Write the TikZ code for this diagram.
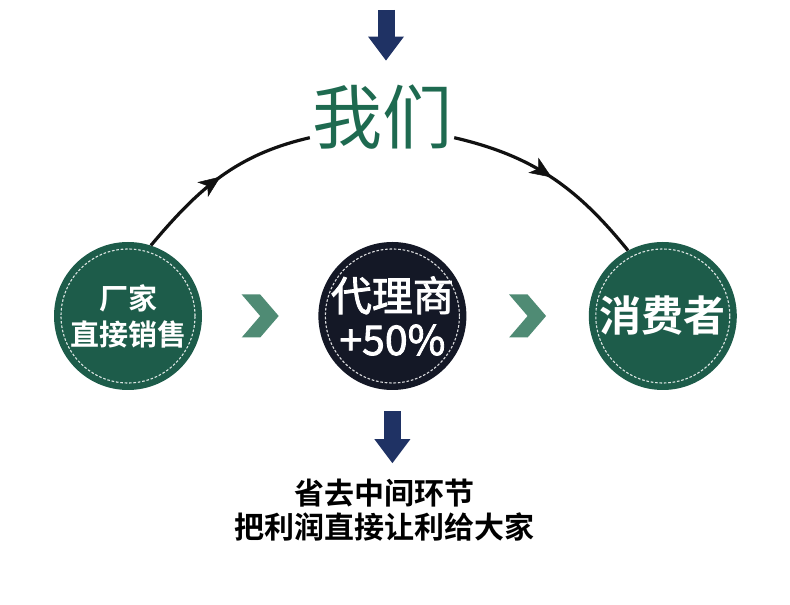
\documentclass[tikz,border=0pt]{standalone}
\usepackage{fontspec}
\setmainfont{Noto Sans CJK SC}[BoldFont={Noto Sans CJK SC Bold}]
\newfontfamily\midfont{Noto Sans CJK SC}[FakeBold=2]
\usetikzlibrary{positioning}
\usetikzlibrary{arrows.meta}
\usetikzlibrary{calc}
\usetikzlibrary{decorations.markings}
\definecolor{circgreen}{RGB}{29,92,74}
\definecolor{circdark}{RGB}{20,24,38}
\definecolor{wegreen}{RGB}{30,106,80}
\definecolor{navy}{RGB}{31,50,100}
\definecolor{chevcol}{RGB}{79,139,116}
\definecolor{linecol}{RGB}{17,17,17}

\begin{document}
\begin{tikzpicture}[
    x=1pt, y=1pt,
    circ/.style={circle, minimum size=148pt, inner sep=0pt, text=white, align=center},
    greencirc/.style={circ, fill=circgreen},
    darkcirc/.style={circ, fill=circdark},
    ring/.style={draw=white, draw opacity=0.85, line width=1.1pt, dash pattern=on 2.6pt off 1.8pt},
    arcline/.style={draw=linecol, line width=3.2pt,
        decoration={markings, mark=at position 0.5 with {\arrow[line width=0.5pt]{Stealth[length=22pt,width=18pt,inset=6pt]}}},
        postaction={decorate}},
    bigarrow/.style={draw=navy, line width=17pt, -{Triangle[length=24pt,width=36pt,line width=0pt]}},
    chev/.style={fill=chevcol}
]
\fill[white] (0,0) rectangle (790,605);
\useasboundingbox (0,0) rectangle (790,605);

% Circles
\node[greencirc, font=\fontsize{29}{36}\selectfont\bfseries] (fac) at (128,289) {厂家\\直接销售};
\node[darkcirc, font=\fontsize{41}{44}\midfont, right=116pt of fac] (agent) {代理商\\+50\%};
\node[greencirc, font=\fontsize{42}{48}\selectfont\bfseries, right=122pt of agent] (cons) {消费者};
\foreach \n in {fac,agent,cons}
    \draw[ring] (\n.center) circle (67pt);

% Title
\node[inner sep=2pt, text=wegreen, font=\fontsize{70}{72}\selectfont] (we) at (382,488) {我们};

% Bottom text
\node[inner sep=2pt, align=center, font=\fontsize{30}{34}\selectfont\bfseries, below=87pt of agent, xshift=-8pt] (save) {省去中间环节\\把利润直接让利给大家};

% Arcs
\draw[arcline] (fac.72) to[out=50, in=193] (we.196);
\draw[arcline] (we.344) to[out=-13, in=129] (cons.118);

% Chevrons
\foreach \a/\b in {fac/agent, agent/cons}
    \fill[chev, shift={($(\a)!0.5!(\b)$)}] (-18.5,21.5) -- (0,21.5) -- (18.5,0) -- (0,-21.5) -- (-18.5,-21.5) -- (0,0) -- cycle;

% Block arrows
\coordinate (topin) at (386,595);
\draw[bigarrow, shorten >=22pt] (topin) -- (topin |- we.north);
\draw[bigarrow, shorten <=21pt, shorten >=14pt] (agent.south) -- (agent.south |- save.north);

\end{tikzpicture}
\end{document}
